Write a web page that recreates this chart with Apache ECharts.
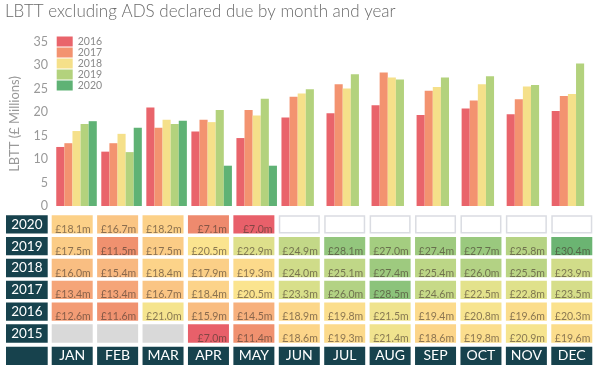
<!DOCTYPE html>
<html><head><meta charset="utf-8">
<script src="https://cdn.jsdelivr.net/npm/echarts@6/dist/echarts.min.js"></script>
<style>html,body{margin:0;padding:0;background:#fff}#c{width:600px;height:371px}</style>
</head><body><div id="c"></div>
<script>
const months = ['JAN','FEB','MAR','APR','MAY','JUN','JUL','AUG','SEP','OCT','NOV','DEC'];
const barYears = ['2016','2017','2018','2019','2020'];
const tableYears = ['2015','2016','2017','2018','2019','2020'];
const yMin = 0, yMax = 35, yStep = 5;

// table values (£ millions)
const t2015 = [null,null,null,7.0,11.4,18.6,19.3,21.4,18.6,19.8,20.9,19.6];
const t2016 = [12.6,11.6,21.0,15.9,14.5,18.9,19.8,21.5,19.4,20.8,19.6,20.3];
const t2017 = [13.4,13.4,16.7,18.4,20.5,23.3,26.0,28.5,24.6,22.5,22.8,23.5];
const t2018 = [16.0,15.4,18.4,17.9,19.3,24.0,25.1,27.4,25.4,26.0,25.5,23.9];
const t2019 = [17.5,11.5,17.5,20.5,22.9,24.9,28.1,27.0,27.4,27.7,25.8,30.4];
const t2020 = [18.1,16.7,18.2,7.1,7.0,null,null,null,null,null,null,null];
// bar heights for 2020 as drawn in the chart
const bars2020 = [18.1,16.7,18.2,8.6,8.6,null,null,null,null,null,null,null];

const barColors = ['#e9646b','#f39370','#f5e08a','#b3d27d','#5fb275'];
const heatStops = [
  [7.0,'#e8606a'],[7.1,'#ee8a6e'],[11.5,'#f0916f'],[14.0,'#f6ab7c'],[16.5,'#fac383'],
  [18.5,'#fcd489'],[20.5,'#fbe48f'],[22.5,'#e3e28c'],[25.0,'#c2d887'],[28.0,'#95c77d'],[30.4,'#6bb472']
];
const teal = '#17424d';
const FONT = 'Lato, "Open Sans", sans-serif';

function hex2rgb(h){return [1,3,5].map(i=>parseInt(h.substr(i,2),16));}
function heat(v){
  if (v <= heatStops[0][0]) return heatStops[0][1];
  for (let i=1;i<heatStops.length;i++){
    if (v <= heatStops[i][0]){
      const [a,ca]=heatStops[i-1],[b,cb]=heatStops[i];
      const t=(v-a)/(b-a), A=hex2rgb(ca), B=hex2rgb(cb);
      return 'rgb('+A.map((x,k)=>Math.round(x+(B[k]-x)*t)).join(',')+')';
    }
  }
  return heatStops[heatStops.length-1][1];
}

const tableRows = [t2015,t2016,t2017,t2018,t2019,t2020];
const barRows = [t2016,t2017,t2018,t2019,bars2020];
const cells = [];
tableRows.forEach((row,yi)=>row.forEach((v,m)=>cells.push([m,yi,v==null?NaN:v])));

const chart = echarts.init(document.getElementById('c'));
chart.setOption({
  animation:false,
  title:{text:'LBTT excluding ADS declared due by month and year', left:5, top:3, padding:0,
    textStyle:{fontSize:17, fontWeight:300, color:'#6a6a6a', fontFamily:FONT}},
  legend:{data:barYears, orient:'vertical', left:56.7, top:36, padding:0, icon:'rect', itemWidth:16, itemHeight:10,
    itemGap:0, textStyle:{fontSize:10.5, lineHeight:10, color:'#8a8a8a', fontFamily:FONT}},
  grid:[
    {left:49.5, right:5.5, top:42, bottom:165},
    {left:49.5, right:5.5, top:213.4, bottom:26.6}
  ],
  xAxis:[
    {type:'category', gridIndex:0, data:months, axisLine:{show:false}, axisTick:{show:false}, axisLabel:{show:false}},
    {type:'category', gridIndex:1, data:months, axisLine:{show:false}, axisTick:{show:false},
     axisLabel:{interval:0, margin:2.3, width:41, height:18.3, lineHeight:18.3, align:'center', verticalAlign:'top',
       backgroundColor:teal, color:'#fff', fontSize:14, fontFamily:FONT}}
  ],
  yAxis:[
    {type:'value', gridIndex:0, min:yMin, max:yMax, interval:yStep, splitLine:{show:false},
     axisLine:{show:false}, axisTick:{show:false},
     axisLabel:{color:'#999', fontSize:12.5, margin:6, fontFamily:FONT},
     name:'LBTT (£ Millions)', nameLocation:'middle', nameGap:33,
     nameTextStyle:{color:'#999', fontSize:13, fontFamily:FONT}},
    {type:'category', gridIndex:1, data:tableYears, axisLine:{show:false}, axisTick:{show:false},
     axisLabel:{interval:0, margin:22.65, width:41.7, height:18.3, lineHeight:18.3, align:'center', verticalAlign:'middle',
       backgroundColor:teal, color:'#fff', fontSize:13.5, fontFamily:FONT}}
  ],
  series: barYears.map((y,i)=>({
    name:y, type:'bar', xAxisIndex:0, yAxisIndex:0, data:barRows[i], barGap:'0%', barCategoryGap:'10%',
    itemStyle:{color:barColors[i]}
  })).concat([{
    type:'custom', xAxisIndex:1, yAxisIndex:1, data:cells, encode:{x:0,y:1},
    renderItem(params, api){
      const m=api.value(0), yi=api.value(1), v=api.value(2);
      const c=api.coord([m,yi]); const s=api.size([1,1]);
      const w=s[0]*0.903, h=s[1]*0.84, x=c[0]-w/2, y=c[1]-h/2;
      if (isNaN(v)) {
        if (yi===0) return {type:'rect', shape:{x,y,width:w,height:h}, style:{fill:'#d9d9d9'}};
        return {type:'rect', shape:{x:x+0.75,y:y+0.75,width:w-1.5,height:h-1.5}, style:{fill:'#fff', stroke:'#dadce2', lineWidth:1.5}};
      }
      return {type:'group', children:[
        {type:'rect', shape:{x,y,width:w,height:h}, style:{fill:heat(v)}},
        {type:'text', style:{text:'£'+v.toFixed(1)+'m', x:x+w-2, y:y+h+1.5, align:'right', verticalAlign:'bottom',
          fill:'rgba(70,55,45,0.62)', fontSize:10.5, fontFamily:FONT}}
      ]};
    }
  }]),
  graphic:[{type:'rect', shape:{x:6,y:346.7,width:41.7,height:18.3}, style:{fill:teal}, silent:true}]
});
</script></body></html>
